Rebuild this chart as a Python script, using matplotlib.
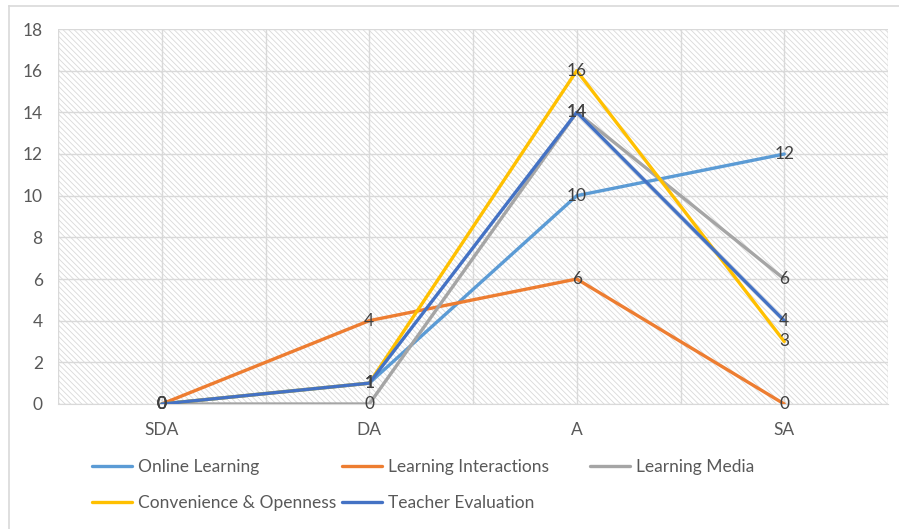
import matplotlib.pyplot as plt
from matplotlib.patches import Rectangle
from matplotlib.lines import Line2D

plt.rcParams['font.family'] = ['Lato', 'DejaVu Sans']
plt.rcParams['hatch.linewidth'] = 0.6

categories = ['SDA', 'DA', 'A', 'SA']
series_names = ['Online Learning', 'Learning Interactions', 'Learning Media',
                'Convenience & Openness', 'Teacher Evaluation']
online_learning = [0, 1, 10, 12]
learning_interactions = [0, 4, 6, 0]
learning_media = [0, 0, 14, 6]
convenience_openness = [0, 1, 16, 3]
teacher_evaluation = [0, 1, 14, 4]
y_ticks = [0, 2, 4, 6, 8, 10, 12, 14, 16, 18]

all_series = [online_learning, learning_interactions, learning_media,
              convenience_openness, teacher_evaluation]
colors = ['#5B9BD5', '#ED7D31', '#A5A5A5', '#FFC000', '#4472C4']
text_color = '#595959'
label_color = '#404040'
grid_color = '#D9D9D9'

W, H = 899, 529
fig = plt.figure(figsize=(W / 100, H / 100), dpi=100)

# outer chart frame (top and left edges only, rest is cropped)
fig.add_artist(Line2D([9 / W, 9 / W], [0, 1 - 6 / H], transform=fig.transFigure,
                      color='#D9D9D9', lw=1.2))
fig.add_artist(Line2D([9 / W, 1], [1 - 6 / H, 1 - 6 / H], transform=fig.transFigure,
                      color='#D9D9D9', lw=1.2))

ax = fig.add_axes([58 / W, 1 - 404 / H, 830 / W, 375 / H])

# hatched plot area background
ax.add_patch(Rectangle((0, 0), 1, 1, transform=ax.transAxes, facecolor='white',
                       edgecolor='#D9D9D9', hatch='\\\\\\\\\\\\', lw=0, zorder=0))

x = list(range(len(categories)))
lines = []
for name, vals, c in zip(series_names, all_series, colors):
    ln, = ax.plot(x, vals, color=c, lw=2.4, label=name, zorder=3, solid_capstyle='round')
    lines.append(ln)

for vals in all_series:
    for xi, v in zip(x, vals):
        ax.text(xi, v, str(v), ha='center', va='center', fontsize=12.5,
                color=label_color, zorder=5)

ax.set_xlim(-0.5, 3.5)
ax.set_ylim(0, 18)
ax.set_yticks(y_ticks)
ax.set_xticks(x)
ax.set_xticklabels(categories)
ax.set_xticks([-0.5, 0.5, 1.5, 2.5, 3.5], minor=True)
ax.grid(True, which='both', axis='x', color=grid_color, lw=1, zorder=1)
ax.grid(True, which='major', axis='y', color=grid_color, lw=1, zorder=1)
ax.set_axisbelow(True)
ax.tick_params(axis='both', which='both', length=0, labelsize=12.5, colors=text_color)
ax.tick_params(axis='y', pad=11)
ax.tick_params(axis='x', pad=13)
for s in ['top', 'right', 'left']:
    ax.spines[s].set_visible(False)
ax.spines['bottom'].set_color(grid_color)

# legend entries laid out row by row, like the spreadsheet legend
entry_pos = [(92, 467), (342, 467), (590, 467), (92, 503), (342, 503)]
for ln, (px, py) in zip(lines, entry_pos):
    leg = fig.legend([ln], [ln.get_label()], loc='center left',
                     bbox_to_anchor=(px / W, 1 - py / H), frameon=False,
                     fontsize=12.5, labelcolor=text_color, handlelength=2.3,
                     handletextpad=0.35, borderpad=0, borderaxespad=0)

fig.savefig('out.png', dpi=100)
